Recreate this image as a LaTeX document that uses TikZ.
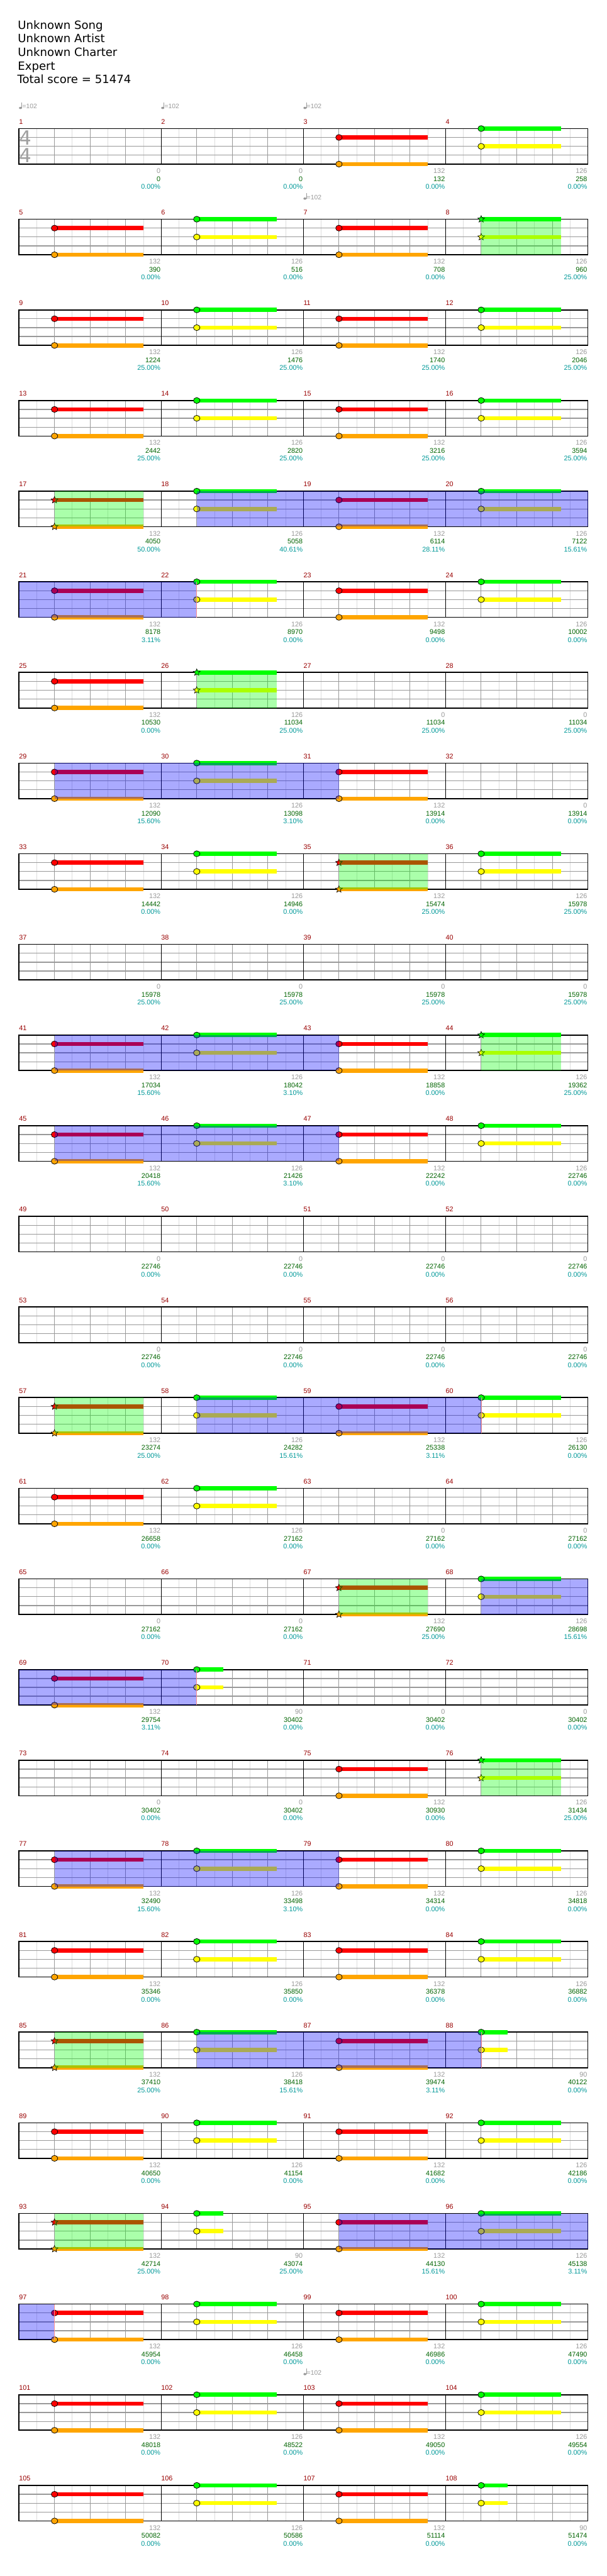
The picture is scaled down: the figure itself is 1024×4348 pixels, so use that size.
\documentclass[tikz,border=0pt]{standalone}
\usepackage{fontspec}
\setmainfont{Liberation Sans}
\newfontfamily\titlefont{DejaVu Sans}
\usetikzlibrary{shapes.geometric}

\definecolor{gnote}{HTML}{00FF00}
\definecolor{rnote}{HTML}{FF0000}
\definecolor{ynote}{HTML}{FFFF00}
\definecolor{onote}{HTML}{FFA500}
\definecolor{barnum}{HTML}{990000}
\definecolor{scgray}{HTML}{999999}
\definecolor{scgreen}{HTML}{006400}
\definecolor{scteal}{HTML}{009999}
\definecolor{gridlt}{HTML}{DDDDDD}
\definecolor{griddk}{HTML}{999999}
\definecolor{tsgray}{HTML}{A0A0A0}
\definecolor{spedge}{HTML}{FF9090}

\tikzset{
  title/.style={font=\titlefont\fontsize{19.2}{19.2}\selectfont, anchor=base west, inner sep=0pt},
  barno/.style={font=\fontsize{11.5}{11.5}\selectfont, text=barnum, anchor=base west, inner sep=0pt},
  pts/.style={font=\fontsize{11.5}{11.5}\selectfont, text=scgray, anchor=base east, inner sep=0pt},
  tot/.style={font=\fontsize{11.5}{11.5}\selectfont, text=scgreen, anchor=base east, inner sep=0pt},
  pct/.style={font=\fontsize{11.5}{11.5}\selectfont, text=scteal, anchor=base east, inner sep=0pt},
  tempo/.style={font=\fontsize{11}{11}\selectfont, text=scgray, anchor=base west, inner sep=0pt},
  timesig/.style={font=\titlefont\fontsize{33}{33}\selectfont, text=tsgray, anchor=base, inner sep=0pt},
  eighth/.style={gridlt, line width=1pt},
  beat/.style={griddk, line width=1pt},
  string/.style={griddk, line width=1.4pt},
  barline/.style={black, line width=1pt},
  frame/.style={black, line width=1.8pt},
  note/.style={ellipse, draw=black, line width=0.8pt, inner sep=0pt, minimum width=11pt, minimum height=10pt},
  starnote/.style={star, star points=5, star point ratio=2.2, draw=black, line width=0.7pt, inner sep=0pt, minimum size=12pt},
}

% red + orange chord
\newcommand{\chordA}[4]{%
  \fill[rnote] (#2+60,#1+11.5) rectangle (#2+210,#1+18.5);
  \fill[onote] (#2+60,#1+56.5) rectangle (#2+210,#1+63.5);
  \node[#4, fill=rnote] (red#3) at (#2+60,#1+15) {};
  \node[#4, fill=onote] (org#3) at (#2+60,#1+60) {};
}
% green + yellow chord, #5 = sustain end
\newcommand{\chordB}[5]{%
  \fill[gnote] (#2+60,#1-3.5) rectangle (#2+#5,#1+3.5);
  \fill[ynote] (#2+60,#1+26.5) rectangle (#2+#5,#1+33.5);
  \node[#4, fill=gnote] (grn#3) at (#2+60,#1) {};
  \node[#4, fill=ynote] (yel#3) at (#2+60,#1+30) {};
}

\begin{document}
\begin{tikzpicture}[x=1pt, y=-1pt]
\useasboundingbox[fill=white] (0,0) rectangle (1024,4348);

% Kopf
\node[title] (song) at (30,49) {Unknown Song};
\node[title] (artist) at (30,72) {Unknown Artist};
\node[title] (charter) at (30,95) {Unknown Charter};
\node[title] (diff) at (30,118) {Expert};
\node[title] (total) at (29,141) {Total score = 51474};

% Tempo
\foreach \r/\x [count=\i] in {1/32, 1/272, 1/512, 2/512, 26/512}{
  \pgfmathsetmacro\T{217+153*(\r-1)}
  \fill[scgray] (\x+2.6,\T-34.8) ellipse (2.6 and 1.9);
  \draw[scgray, line width=0.8pt] (\x+4.9,\T-34.8) -- (\x+4.9,\T-44);
  \node[tempo] (bpm\i) at (\x+5.5,\T-33.5) {=102};
}

% Raster
\foreach \r in {1,...,27}{
  \pgfmathsetmacro\T{217+153*(\r-1)}
  \foreach \c in {0,...,3}{
    \pgfmathsetmacro\X{32+240*\c}
    \foreach \j in {30,90,150,210} \draw[eighth] (\X+\j,\T) -- (\X+\j,\T+60);
    \foreach \j in {60,120,180} \draw[beat] (\X+\j,\T) -- (\X+\j,\T+60);
    \pgfmathtruncatemacro\m{4*(\r-1)+\c+1}
    \node[barno] (bar\m) at (\X,\T-7.5) {\m};
  }
  \foreach \s in {15,30,45} \draw[string] (32,\T+\s) -- (992,\T+\s);
  \foreach \x in {272,512,752} \draw[barline] (\x,\T) -- (\x,\T+60);
  \draw[frame] (32,\T) rectangle (992,\T+60);
}

% Taktart
\node[timesig] (tsup) at (43,244.7) {4};
\node[timesig] (tsdown) at (43,274.7) {4};

% Noten und Punkte
\foreach \m/\a/\b/\p/\n in {
  1/0/0/0.00/note, 2/0/0/0.00/note, 3/132/132/0.00/note, 4/126/258/0.00/note,
  5/132/390/0.00/note, 6/126/516/0.00/note, 7/132/708/0.00/note, 8/126/960/25.00/starnote,
  9/132/1224/25.00/note, 10/126/1476/25.00/note, 11/132/1740/25.00/note, 12/126/2046/25.00/note,
  13/132/2442/25.00/note, 14/126/2820/25.00/note, 15/132/3216/25.00/note, 16/126/3594/25.00/note,
  17/132/4050/50.00/starnote, 18/126/5058/40.61/note, 19/132/6114/28.11/note, 20/126/7122/15.61/note,
  21/132/8178/3.11/note, 22/126/8970/0.00/note, 23/132/9498/0.00/note, 24/126/10002/0.00/note,
  25/132/10530/0.00/note, 26/126/11034/25.00/starnote, 27/0/11034/25.00/note, 28/0/11034/25.00/note,
  29/132/12090/15.60/note, 30/126/13098/3.10/note, 31/132/13914/0.00/note, 32/0/13914/0.00/note,
  33/132/14442/0.00/note, 34/126/14946/0.00/note, 35/132/15474/25.00/starnote, 36/126/15978/25.00/note,
  37/0/15978/25.00/note, 38/0/15978/25.00/note, 39/0/15978/25.00/note, 40/0/15978/25.00/note,
  41/132/17034/15.60/note, 42/126/18042/3.10/note, 43/132/18858/0.00/note, 44/126/19362/25.00/starnote,
  45/132/20418/15.60/note, 46/126/21426/3.10/note, 47/132/22242/0.00/note, 48/126/22746/0.00/note,
  49/0/22746/0.00/note, 50/0/22746/0.00/note, 51/0/22746/0.00/note, 52/0/22746/0.00/note,
  53/0/22746/0.00/note, 54/0/22746/0.00/note, 55/0/22746/0.00/note, 56/0/22746/0.00/note,
  57/132/23274/25.00/starnote, 58/126/24282/15.61/note, 59/132/25338/3.11/note, 60/126/26130/0.00/note,
  61/132/26658/0.00/note, 62/126/27162/0.00/note, 63/0/27162/0.00/note, 64/0/27162/0.00/note,
  65/0/27162/0.00/note, 66/0/27162/0.00/note, 67/132/27690/25.00/starnote, 68/126/28698/15.61/note,
  69/132/29754/3.11/note, 70/90/30402/0.00/note, 71/0/30402/0.00/note, 72/0/30402/0.00/note,
  73/0/30402/0.00/note, 74/0/30402/0.00/note, 75/132/30930/0.00/note, 76/126/31434/25.00/starnote,
  77/132/32490/15.60/note, 78/126/33498/3.10/note, 79/132/34314/0.00/note, 80/126/34818/0.00/note,
  81/132/35346/0.00/note, 82/126/35850/0.00/note, 83/132/36378/0.00/note, 84/126/36882/0.00/note,
  85/132/37410/25.00/starnote, 86/126/38418/15.61/note, 87/132/39474/3.11/note, 88/90/40122/0.00/note,
  89/132/40650/0.00/note, 90/126/41154/0.00/note, 91/132/41682/0.00/note, 92/126/42186/0.00/note,
  93/132/42714/25.00/starnote, 94/90/43074/25.00/note, 95/132/44130/15.61/note, 96/126/45138/3.11/note,
  97/132/45954/0.00/note, 98/126/46458/0.00/note, 99/132/46986/0.00/note, 100/126/47490/0.00/note,
  101/132/48018/0.00/note, 102/126/48522/0.00/note, 103/132/49050/0.00/note, 104/126/49554/0.00/note,
  105/132/50082/0.00/note, 106/126/50586/0.00/note, 107/132/51114/0.00/note, 108/90/51474/0.00/note}{
  \pgfmathtruncatemacro\r{div(\m-1,4)}
  \pgfmathtruncatemacro\c{mod(\m-1,4)}
  \pgfmathsetmacro\T{217+153*\r}
  \pgfmathsetmacro\X{32+240*\c}
  \ifnum\a=132 \chordA{\T}{\X}{\m}{\n}\fi
  \ifnum\a=126 \chordB{\T}{\X}{\m}{\n}{195}\fi
  \ifnum\a=90 \chordB{\T}{\X}{\m}{\n}{105}\fi
  \node[pts] (pts\m) at (\X+239,\T+75.5) {\a};
  \node[tot] (tot\m) at (\X+239,\T+88.8) {\b};
  \node[pct] (pct\m) at (\X+239,\T+102) {\p\%};
}

% Star Power (gruen = Phrase, blau = aktiv)
\foreach \r/\xa/\xb/\k in {2/812/947/gnote, 5/92/242/gnote, 5/332/992/blue, 6/32/332/blue,
  7/332/467/gnote, 8/92/572/blue, 9/572/722/gnote, 11/92/572/blue, 11/812/947/gnote,
  12/92/572/blue, 15/92/242/gnote, 15/332/812/blue, 17/572/722/gnote, 17/812/992/blue,
  18/32/332/blue, 19/812/947/gnote, 20/92/572/blue, 22/92/242/gnote, 22/332/812/blue,
  24/92/242/gnote, 24/572/992/blue, 25/32/92/blue}{
  \pgfmathsetmacro\T{217+153*(\r-1)}
  \fill[fill=\k, opacity=0.3333] (\xa,\T) rectangle (\xb,\T+60);
}
\foreach \r/\x in {6/332, 15/812, 18/332, 22/812, 25/92}{
  \pgfmathsetmacro\T{217+153*(\r-1)}
  \draw[spedge, line width=0.8pt] (\x,\T) -- (\x,\T+60);
}
\end{tikzpicture}
\end{document}
